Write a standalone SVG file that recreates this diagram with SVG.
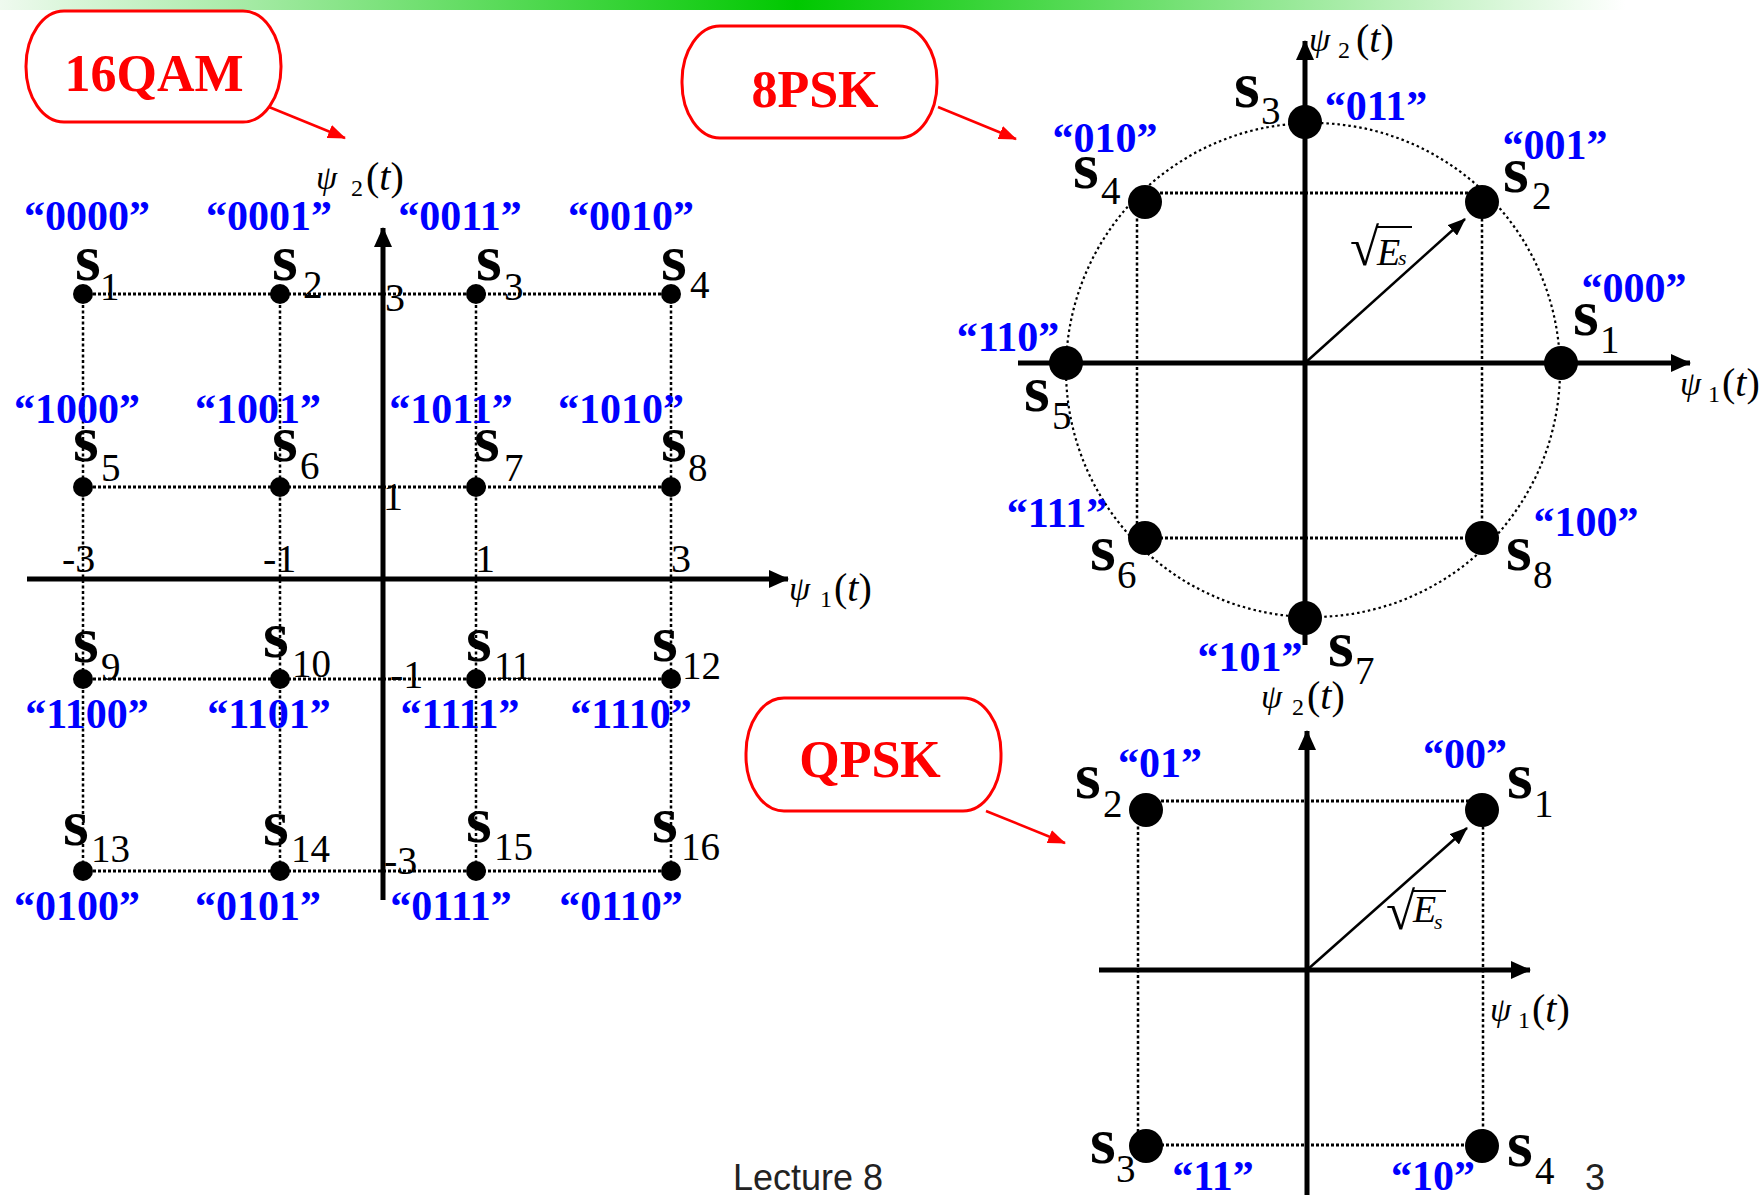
<svg xmlns="http://www.w3.org/2000/svg" width="1764" height="1195" viewBox="0 0 1764 1195">
<defs>
<linearGradient id="bar" x1="0" y1="0" x2="1" y2="0">
<stop offset="0" stop-color="#effaef"/>
<stop offset="0.49" stop-color="#00c800"/>
<stop offset="1" stop-color="#ffffff"/>
</linearGradient>
<marker id="axHead" markerUnits="userSpaceOnUse" viewBox="0 0 20 18" markerWidth="20" markerHeight="18" refX="19" refY="9" orient="auto">
<path d="M0,0 L20,9 L0,18 z" fill="#000"/>
</marker>
<marker id="vecHead" markerUnits="userSpaceOnUse" viewBox="0 0 18 14" markerWidth="18" markerHeight="14" refX="17" refY="7" orient="auto">
<path d="M0,0 L18,7 L0,14 z" fill="#000"/>
</marker>
<marker id="redHead" markerUnits="userSpaceOnUse" viewBox="0 0 18 14" markerWidth="18" markerHeight="14" refX="17" refY="7" orient="auto">
<path d="M0,0 L18,7 L0,14 z" fill="#ff0000"/>
</marker>
</defs>
<style>
.bits{font-family:"Liberation Serif","Times New Roman",serif;font-weight:bold;font-size:42px;fill:#0000ff;text-anchor:middle}
.title{font-family:"Liberation Serif","Times New Roman",serif;font-weight:bold;font-size:52px;fill:#ff0000;text-anchor:middle}
.sym{font-family:"Liberation Serif","Times New Roman",serif;font-weight:bold;font-size:66px;fill:#000}
.sub{font-family:"Liberation Serif","Times New Roman",serif;font-size:39px;fill:#000}
.tick{font-family:"Liberation Serif","Times New Roman",serif;font-size:40px;fill:#000}
.psi{font-family:"Liberation Serif","Times New Roman",serif;font-style:italic;font-size:34px;fill:#000}
.psub{font-family:"Liberation Serif","Times New Roman",serif;font-size:24px;fill:#000}
.par{font-family:"Liberation Serif","Times New Roman",serif;font-size:40px;fill:#000}
.it{font-style:italic}
.es{font-family:"Liberation Serif","Times New Roman",serif;font-style:italic;font-size:38px;fill:#000}
.ess{font-family:"Liberation Serif","Times New Roman",serif;font-style:italic;font-size:22px;fill:#000}
.rad{font-family:"Liberation Serif","Times New Roman",serif;font-size:53px;fill:#000}
.foot{font-family:"Liberation Sans",Arial,sans-serif;font-size:36px;fill:#222}
.box{fill:#fff;stroke:#ff0000;stroke-width:3}
.axis{stroke:#000;stroke-width:5;fill:none}
.gh{stroke:#000;stroke-width:3;stroke-dasharray:3 2;fill:none}
.gv{stroke:#000;stroke-width:2.5;stroke-dasharray:3 2.5;fill:none}
.circ{stroke:#000;stroke-width:2.2;stroke-dasharray:2.5 3;fill:none}
.vec{stroke:#000;stroke-width:2.5;fill:none}
.red{stroke:#ff0000;stroke-width:2.5;fill:none}
.dot{fill:#000}
</style>
<rect x="0" y="0" width="1625" height="10" fill="url(#bar)"/>

<!-- Title boxes -->
<g id="title-16qam"><rect class="box" x="26" y="11" width="255" height="111" rx="38" ry="55"/><text class="title" x="154" y="91">16QAM</text></g>
<g id="title-8psk"><rect class="box" x="682" y="26" width="255" height="112" rx="38" ry="55"/><text class="title" x="815" y="107">8PSK</text></g>
<g id="title-qpsk"><rect class="box" x="746" y="698" width="255" height="113" rx="38" ry="55"/><text class="title" x="870" y="777">QPSK</text></g>

<g id="connectors">
<line class="red" x1="269" y1="107" x2="345" y2="138" marker-end="url(#redHead)"/>
<line class="red" x1="938" y1="107" x2="1016" y2="139" marker-end="url(#redHead)"/>
<line class="red" x1="986" y1="811" x2="1065" y2="843" marker-end="url(#redHead)"/>
<!-- 16QAM guides -->
<line class="gh" x1="83" y1="294" x2="671" y2="294"/>
<line class="gh" x1="83" y1="487" x2="671" y2="487"/>
<line class="gh" x1="83" y1="679" x2="671" y2="679"/>
<line class="gh" x1="83" y1="871" x2="671" y2="871"/>
<line class="gv" x1="83" y1="294" x2="83" y2="871"/>
<line class="gv" x1="280" y1="294" x2="280" y2="871"/>
<line class="gv" x1="476" y1="294" x2="476" y2="871"/>
<line class="gv" x1="671" y1="294" x2="671" y2="871"/>
<!-- 8PSK guides -->
<circle class="circ" cx="1313" cy="370" r="247"/>
<line class="gh" x1="1145" y1="193" x2="1482" y2="193"/>
<line class="gh" x1="1145" y1="538" x2="1482" y2="538"/>
<line class="gv" x1="1137" y1="202" x2="1137" y2="538"/>
<line class="gv" x1="1482" y1="202" x2="1482" y2="538"/>
<!-- QPSK guides -->
<line class="gh" x1="1146" y1="801" x2="1482" y2="801"/>
<line class="gh" x1="1146" y1="1145" x2="1482" y2="1145"/>
<line class="gv" x1="1138" y1="810" x2="1138" y2="1146"/>
<line class="gv" x1="1483" y1="810" x2="1483" y2="1146"/>
<!-- axes -->
<line class="axis" x1="27" y1="579" x2="788" y2="579" marker-end="url(#axHead)"/>
<line class="axis" x1="383" y1="900" x2="383" y2="228" marker-end="url(#axHead)"/>
<line class="axis" x1="1018" y1="363" x2="1690" y2="363" marker-end="url(#axHead)"/>
<line class="axis" x1="1305" y1="645" x2="1305" y2="41" marker-end="url(#axHead)"/>
<line class="axis" x1="1099" y1="970" x2="1530" y2="970" marker-end="url(#axHead)"/>
<line class="axis" x1="1307" y1="1195" x2="1307" y2="731" marker-end="url(#axHead)"/>
<!-- energy vectors -->
<line class="vec" x1="1305" y1="363" x2="1465" y2="219" marker-end="url(#vecHead)"/>
<line class="vec" x1="1307" y1="970" x2="1467" y2="828" marker-end="url(#vecHead)"/>
</g>

<!-- axis labels -->
<g id="axis-labels">
<text class="psi" x="316" y="189">ψ</text><text class="psub" x="351" y="196">2</text><text class="par" x="366" y="190">(<tspan class="it">t</tspan>)</text>
<text class="psi" x="789" y="600">ψ</text><text class="psub" x="820" y="607">1</text><text class="par" x="834" y="601">(<tspan class="it">t</tspan>)</text>
<text class="psi" x="1309" y="51">ψ</text><text class="psub" x="1338" y="58">2</text><text class="par" x="1356" y="52">(<tspan class="it">t</tspan>)</text>
<text class="psi" x="1680" y="395">ψ</text><text class="psub" x="1708" y="402">1</text><text class="par" x="1722" y="396">(<tspan class="it">t</tspan>)</text>
<text class="psi" x="1261" y="708">ψ</text><text class="psub" x="1292" y="715">2</text><text class="par" x="1307" y="709">(<tspan class="it">t</tspan>)</text>
<text class="psi" x="1490" y="1021">ψ</text><text class="psub" x="1518" y="1028">1</text><text class="par" x="1532" y="1022">(<tspan class="it">t</tspan>)</text>
<text class="tick" x="385" y="311">3</text>
<text class="tick" x="383" y="510">1</text>
<text class="tick" x="390" y="688">-1</text>
<text class="tick" x="384" y="874">-3</text>
<text class="tick" x="62" y="572">-3</text>
<text class="tick" x="263" y="572">-1</text>
<text class="tick" x="475" y="572">1</text>
<text class="tick" x="671" y="572">3</text>
<text class="rad" x="1350" y="265">√</text><line x1="1377" y1="227" x2="1412" y2="227" stroke="#000" stroke-width="2"/><text class="es" x="1377" y="265">E</text><text class="ess" x="1398" y="265">s</text>
<text class="rad" x="1386" y="929">√</text><line x1="1413" y1="891" x2="1446" y2="891" stroke="#000" stroke-width="2"/><text class="es" x="1413" y="922">E</text><text class="ess" x="1434" y="929">s</text>
</g>

<!-- 16QAM points -->
<g id="qam-s1"><circle class="dot" cx="83" cy="294" r="10"/><text class="sym" x="75" y="280">s</text><text class="sub" x="100" y="300">1</text><text class="bits" x="87" y="230">“0000”</text></g>
<g id="qam-s2"><circle class="dot" cx="280" cy="294" r="10"/><text class="sym" x="272" y="280">s</text><text class="sub" x="303" y="298">2</text><text class="bits" x="269" y="230">“0001”</text></g>
<g id="qam-s3"><circle class="dot" cx="476" cy="294" r="10"/><text class="sym" x="476" y="280">s</text><text class="sub" x="504" y="300">3</text><text class="bits" x="460" y="230">“0011”</text></g>
<g id="qam-s4"><circle class="dot" cx="671" cy="294" r="10"/><text class="sym" x="661" y="280">s</text><text class="sub" x="690" y="298">4</text><text class="bits" x="631" y="230">“0010”</text></g>
<g id="qam-s5"><circle class="dot" cx="83" cy="487" r="10"/><text class="sym" x="73" y="461">s</text><text class="sub" x="101" y="481">5</text><text class="bits" x="77" y="423">“1000”</text></g>
<g id="qam-s6"><circle class="dot" cx="280" cy="487" r="10"/><text class="sym" x="272" y="461">s</text><text class="sub" x="300" y="479">6</text><text class="bits" x="258" y="423">“1001”</text></g>
<g id="qam-s7"><circle class="dot" cx="476" cy="487" r="10"/><text class="sym" x="474" y="461">s</text><text class="sub" x="504" y="481">7</text><text class="bits" x="451" y="423">“1011”</text></g>
<g id="qam-s8"><circle class="dot" cx="671" cy="487" r="10"/><text class="sym" x="661" y="461">s</text><text class="sub" x="688" y="481">8</text><text class="bits" x="621" y="423">“1010”</text></g>
<g id="qam-s9"><circle class="dot" cx="83" cy="679" r="10"/><text class="sym" x="73" y="662">s</text><text class="sub" x="101" y="680">9</text><text class="bits" x="87" y="728">“1100”</text></g>
<g id="qam-s10"><circle class="dot" cx="280" cy="679" r="10"/><text class="sym" x="263" y="657">s</text><text class="sub" x="292" y="677">10</text><text class="bits" x="269" y="728">“1101”</text></g>
<g id="qam-s11"><circle class="dot" cx="476" cy="679" r="10"/><text class="sym" x="466" y="661">s</text><text class="sub" x="494" y="679">11</text><text class="bits" x="460" y="728">“1111”</text></g>
<g id="qam-s12"><circle class="dot" cx="671" cy="679" r="10"/><text class="sym" x="652" y="661">s</text><text class="sub" x="682" y="679">12</text><text class="bits" x="631" y="728">“1110”</text></g>
<g id="qam-s13"><circle class="dot" cx="83" cy="871" r="10"/><text class="sym" x="63" y="845">s</text><text class="sub" x="91" y="862">13</text><text class="bits" x="77" y="920">“0100”</text></g>
<g id="qam-s14"><circle class="dot" cx="280" cy="871" r="10"/><text class="sym" x="263" y="845">s</text><text class="sub" x="291" y="862">14</text><text class="bits" x="258" y="920">“0101”</text></g>
<g id="qam-s15"><circle class="dot" cx="476" cy="871" r="10"/><text class="sym" x="466" y="842">s</text><text class="sub" x="494" y="860">15</text><text class="bits" x="451" y="920">“0111”</text></g>
<g id="qam-s16"><circle class="dot" cx="671" cy="871" r="10"/><text class="sym" x="652" y="842">s</text><text class="sub" x="681" y="860">16</text><text class="bits" x="621" y="920">“0110”</text></g>

<!-- 8PSK points -->
<g id="psk-s1"><circle class="dot" cx="1561" cy="363" r="17"/><text class="sym" x="1573" y="335">s</text><text class="sub" x="1600" y="353">1</text><text class="bits" x="1634" y="302">“000”</text></g>
<g id="psk-s2"><circle class="dot" cx="1482" cy="202" r="17"/><text class="sym" x="1503" y="192">s</text><text class="sub" x="1532" y="209">2</text><text class="bits" x="1555" y="159">“001”</text></g>
<g id="psk-s3"><circle class="dot" cx="1305" cy="122" r="17"/><text class="sym" x="1234" y="107">s</text><text class="sub" x="1261" y="124">3</text><text class="bits" x="1376" y="120">“011”</text></g>
<g id="psk-s4"><circle class="dot" cx="1145" cy="202" r="17"/><text class="sym" x="1073" y="188">s</text><text class="sub" x="1101" y="204">4</text><text class="bits" x="1105" y="152">“010”</text></g>
<g id="psk-s5"><circle class="dot" cx="1066" cy="363" r="17"/><text class="sym" x="1024" y="411">s</text><text class="sub" x="1052" y="429">5</text><text class="bits" x="1008" y="351">“110”</text></g>
<g id="psk-s6"><circle class="dot" cx="1145" cy="538" r="17"/><text class="sym" x="1090" y="570">s</text><text class="sub" x="1117" y="588">6</text><text class="bits" x="1057" y="527">“111”</text></g>
<g id="psk-s7"><circle class="dot" cx="1305" cy="618" r="17"/><text class="sym" x="1328" y="666">s</text><text class="sub" x="1355" y="684">7</text><text class="bits" x="1250" y="671">“101”</text></g>
<g id="psk-s8"><circle class="dot" cx="1482" cy="538" r="17"/><text class="sym" x="1506" y="570">s</text><text class="sub" x="1533" y="588">8</text><text class="bits" x="1586" y="536">“100”</text></g>

<!-- QPSK points -->
<g id="qpsk-s1"><circle class="dot" cx="1482" cy="810" r="17"/><text class="sym" x="1507" y="798">s</text><text class="sub" x="1534" y="817">1</text><text class="bits" x="1465" y="768">“00”</text></g>
<g id="qpsk-s2"><circle class="dot" cx="1146" cy="810" r="17"/><text class="sym" x="1075" y="798">s</text><text class="sub" x="1103" y="817">2</text><text class="bits" x="1160" y="777">“01”</text></g>
<g id="qpsk-s3"><circle class="dot" cx="1146" cy="1146" r="17"/><text class="sym" x="1090" y="1163">s</text><text class="sub" x="1116" y="1182">3</text><text class="bits" x="1213" y="1190">“11”</text></g>
<g id="qpsk-s4"><circle class="dot" cx="1482" cy="1146" r="17"/><text class="sym" x="1507" y="1166">s</text><text class="sub" x="1535" y="1184">4</text><text class="bits" x="1433" y="1190">“10”</text></g>

<g id="footer">
<text class="foot" x="733" y="1190">Lecture 8</text>
<text class="foot" x="1585" y="1190">3</text>
</g>
</svg>
